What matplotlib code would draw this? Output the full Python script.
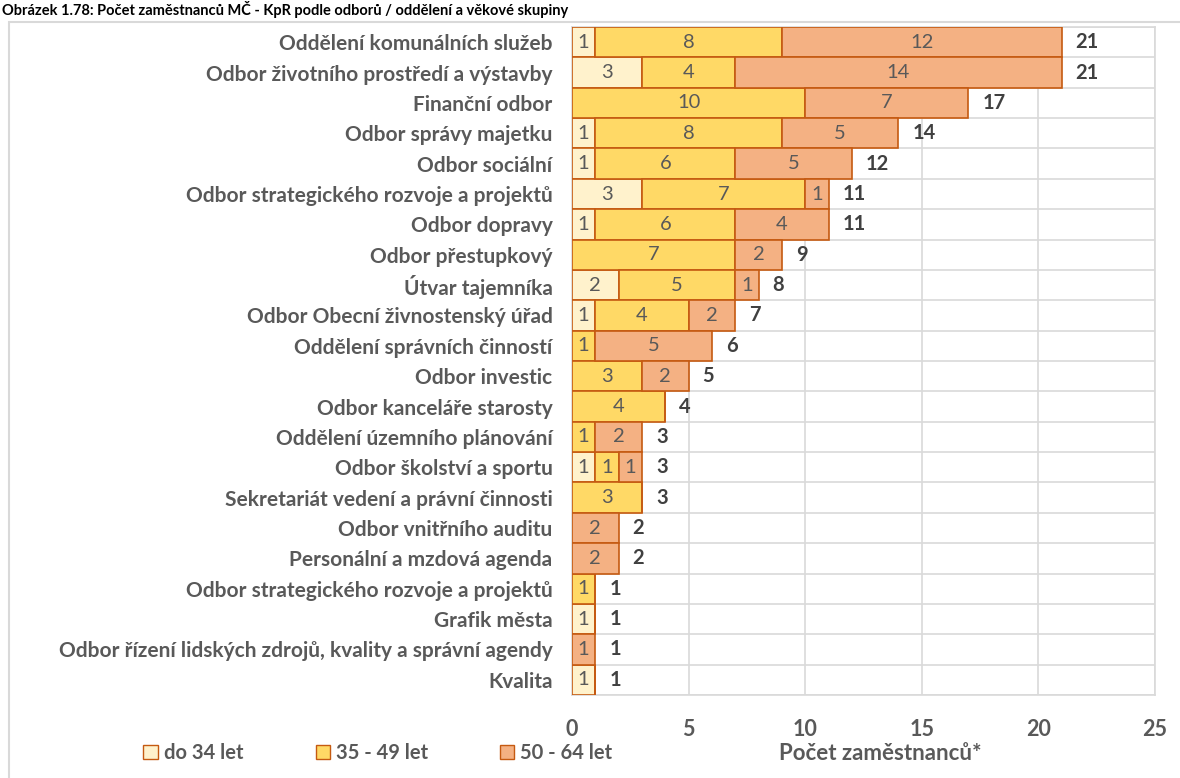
import numpy as np
import matplotlib.pyplot as plt
from matplotlib.patches import Rectangle, Patch

plt.rcParams['font.family'] = ['Lato', 'DejaVu Sans']

# data (top -> bottom as shown)
odbory = [
    'Oddělení komunálních služeb',
    'Odbor životního prostředí a výstavby',
    'Finanční odbor',
    'Odbor správy majetku',
    'Odbor sociální',
    'Odbor strategického rozvoje a projektů',
    'Odbor dopravy',
    'Odbor přestupkový',
    'Útvar tajemníka',
    'Odbor Obecní živnostenský úřad',
    'Oddělení správních činností',
    'Odbor investic',
    'Odbor kanceláře starosty',
    'Oddělení územního plánování',
    'Odbor školství a sportu',
    'Sekretariát vedení a právní činnosti',
    'Odbor vnitřního auditu',
    'Personální a mzdová agenda',
    'Odbor strategického rozvoje a projektů',
    'Grafik města',
    'Odbor řízení lidských zdrojů, kvality a správní agendy',
    'Kvalita',
]
do_34 = [1, 3, 0, 1, 1, 3, 1, 0, 2, 1, 0, 0, 0, 0, 1, 0, 0, 0, 0, 1, 0, 1]
od_35_49 = [8, 4, 10, 8, 6, 7, 6, 7, 5, 4, 1, 3, 4, 1, 1, 3, 0, 0, 1, 0, 0, 0]
od_50_64 = [12, 14, 7, 5, 5, 1, 4, 2, 1, 2, 5, 2, 0, 2, 1, 0, 2, 2, 0, 0, 1, 0]
skupiny = ['do 34 let', '35 - 49 let', '50 - 64 let']
barvy = ['#FFF2CC', '#FFD966', '#F4B183']
okraj = '#C55A11'

W, H = 1180, 778
fig = plt.figure(figsize=(W / 100, H / 100), dpi=100)
ax = fig.add_axes([572 / W, 1 - 695 / H, 583 / W, 668 / H])

y = np.arange(len(odbory))
left = np.zeros(len(odbory))
for vals, col in zip([do_34, od_35_49, od_50_64], barvy):
    vals = np.array(vals)
    ax.barh(y, vals, left=left, height=1.0, color=col, edgecolor=okraj,
            linewidth=1.2, zorder=3)
    for yi, (l, v) in enumerate(zip(left, vals)):
        if v > 0:
            ax.text(l + v / 2, yi, str(v), ha='center', va='center',
                    fontsize=14.5, color='#595959', zorder=4)
    left = left + vals

for yi, tot in enumerate(left):
    ax.annotate(str(int(tot)), (tot, yi), xytext=(10, 0), textcoords='offset points',
                ha='left', va='center', fontsize=14.5, fontweight='bold', color='#404040')

ax.set_xlim(0, 25)
ax.set_ylim(len(odbory) - 0.5, -0.5)
ax.set_xticks([0, 5, 10, 15, 20, 25])
ax.set_yticks(y)
ax.set_yticklabels(odbory)
ax.set_yticks(np.arange(-0.5, len(odbory), 1), minor=True)
ax.tick_params(axis='y', which='both', length=0, pad=14, labelsize=15, labelcolor='#595959')
ax.tick_params(axis='x', length=0, pad=17, labelsize=15.5, labelcolor='#595959')
for lab in ax.get_yticklabels() + ax.get_xticklabels():
    lab.set_fontweight('bold')
ax.grid(axis='x', color='#D9D9D9', linewidth=1.2, zorder=0)
ax.grid(axis='y', which='minor', color='#D9D9D9', linewidth=1.2, zorder=0)
ax.grid(axis='y', which='major', visible=False)
for s in ax.spines.values():
    s.set_color('#D9D9D9')
    s.set_linewidth(1.2)

fig.text(880 / W, 1 - 753 / H, 'Počet zaměstnanců*', ha='center', va='center',
         fontsize=16, fontweight='bold', color='#595959')

handles = [Patch(facecolor=c, edgecolor=okraj, label=s) for c, s in zip(barvy, skupiny)]
fig.legend(handles=handles, loc='center', bbox_to_anchor=(378 / W, 1 - 753 / H), ncol=3,
           frameon=False, handlelength=0.7, handleheight=0.7, handletextpad=0.3,
           columnspacing=3.6, prop={'size': 14.5, 'weight': 'bold'}, labelcolor='#595959')

fig.text(2 / W, 1 - 15 / H, 'Obrázek 1.78: Počet zaměstnanců MČ - KpR podle odborů / oddělení a věkové skupiny',
         ha='left', va='baseline', fontsize=10.5, fontweight='bold', color='black')

fig.patches.append(Rectangle((9 / W, -0.1), 1.2, 1 - 22 / H + 0.1, transform=fig.transFigure,
                             fill=False, edgecolor='#D9D9D9', linewidth=1.5))

fig.savefig('out.png', dpi=100)
